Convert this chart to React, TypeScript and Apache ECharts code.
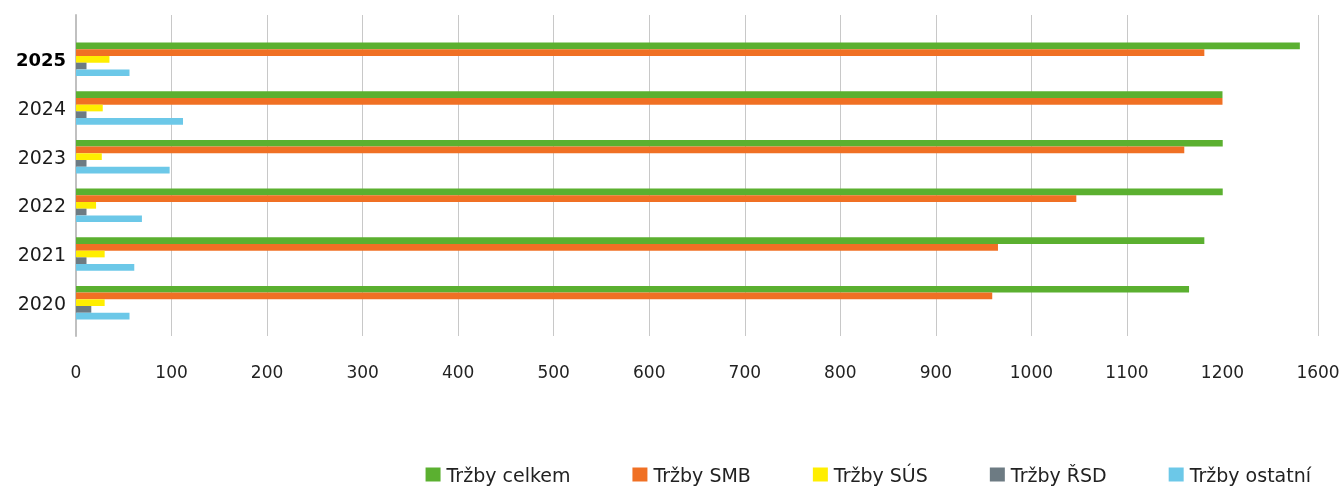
import React, { useEffect, useRef } from "react";
import * as echarts from "echarts";

const years = ["2020", "2021", "2022", "2023", "2024", "2025"];
const seriesNames = ["Tržby celkem", "Tržby SMB", "Tržby SÚS", "Tržby ŘSD", "Tržby ostatní"];
const celkem = [1165, 1181, 1201, 1201, 1200, 1524];
const smb = [959, 965, 1047, 1160, 1200, 1181];
const sus = [30, 30, 21, 27, 28, 35];
const rsd = [16, 11, 11, 11, 11, 11];
const ostatni = [56, 61, 69, 98, 112, 56];
const colors = ["#5BB030", "#F07024", "#FFEE00", "#6D7B83", "#6CC8E8"];
const axisMin = 0;
const axisMax = 1600;
const axisInterval = 100;
const breakStart = 1200;
const breakEnd = 1600;

export default function App() {
  const ref = useRef<HTMLDivElement>(null);
  useEffect(() => {
    if (!ref.current) return;
    const chart = echarts.init(ref.current, null, { renderer: "svg" });
    const values = [celkem, smb, sus, rsd, ostatni];
    const font = "DejaVu Sans";
    const breaks = [{ start: breakStart, end: breakEnd, gap: "7.69%" }];
    chart.setOption({
      animation: false,
      grid: [
        { left: 76, right: 26, top: 35, height: 292 },
        { left: 76, right: 26, top: 15, bottom: 150 },
      ],
      legend: {
        data: seriesNames,
        top: 460,
        right: 28,
        itemWidth: 15,
        itemHeight: 14,
        itemGap: 62,
        icon: "rect",
        textStyle: { fontFamily: font, fontSize: 19, color: "#222", padding: [0, 0, 0, 1] },
      },
      xAxis: [
        {
          gridIndex: 0,
          type: "value",
          min: axisMin,
          max: axisMax,
          interval: axisInterval,
          breaks,
          breakArea: { show: false },
          axisLabel: { show: false },
          axisLine: { show: false },
          axisTick: { show: false },
          splitLine: { show: false },
        },
        {
          gridIndex: 1,
          type: "value",
          min: axisMin,
          max: axisMax,
          interval: axisInterval,
          breaks,
          breakArea: { show: false },
          axisLabel: {
            fontFamily: font,
            fontSize: 17,
            color: "#222",
            margin: 27,
            formatter: (v: number) => String(v),
          },
          axisLine: { show: false },
          axisTick: { show: false },
          splitLine: { show: true, lineStyle: { color: "#c8c8c8", width: 1 } },
        },
      ],
      yAxis: [
        {
          gridIndex: 0,
          type: "category",
          data: years,
          axisLine: { show: false },
          axisTick: { show: false },
          axisLabel: {
            margin: 10,
            fontFamily: font,
            fontSize: 19,
            color: "#1a1a1a",
            formatter: (v: string) => (v === "2025" ? `{b|${v}}` : v),
            rich: { b: { fontFamily: font, fontSize: 18, fontWeight: "bold", color: "#000" } },
          },
        },
        {
          gridIndex: 1,
          type: "value",
          min: 0,
          max: 1,
          axisLabel: { show: false },
          axisTick: { show: false },
          splitLine: { show: false },
          axisLine: { show: true, lineStyle: { color: "#c0c0c0", width: 2 } },
        },
      ],
      series: seriesNames.map((name, i) => ({
        name,
        type: "bar",
        xAxisIndex: 0,
        yAxisIndex: 0,
        data: values[i],
        itemStyle: { color: colors[i] },
        barGap: "0%",
        barCategoryGap: "31%",
      })),
    });
    return () => chart.dispose();
  }, []);
  return <div ref={ref} style={{ position: "fixed", left: 0, top: 0, width: 1344, height: 486 }} />;
}
